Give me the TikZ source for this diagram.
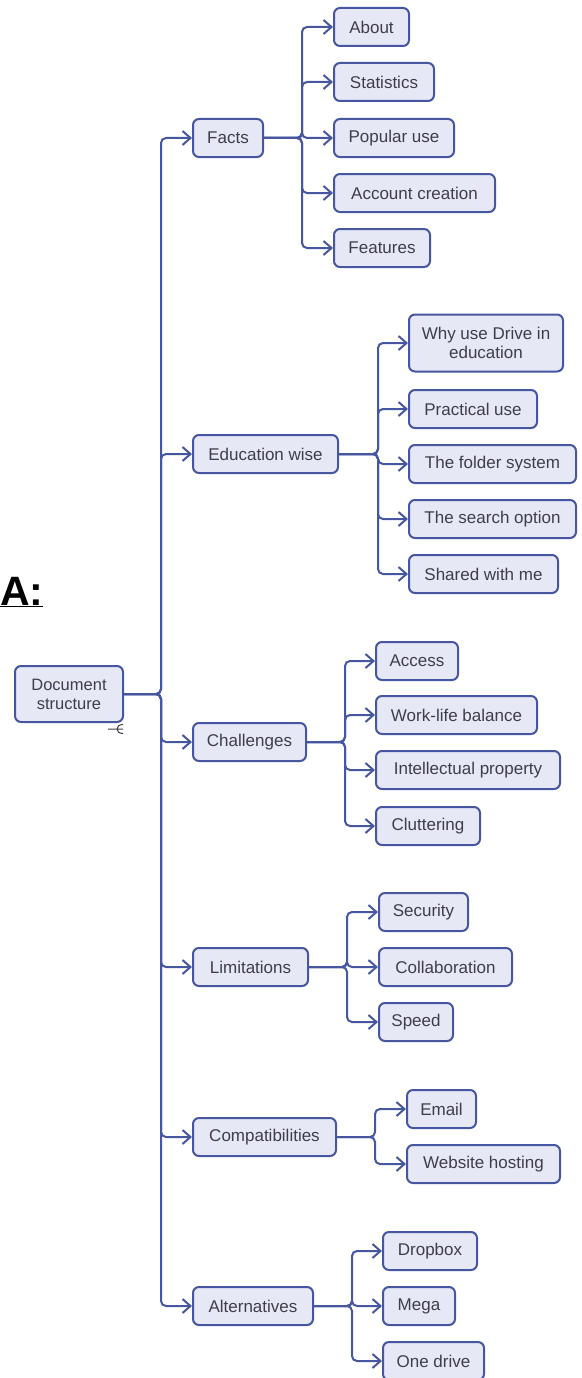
\documentclass[tikz,border=0pt]{standalone}
\usepackage{fontspec}
\setmainfont{Liberation Sans}
\definecolor{linkblue}{RGB}{70, 86, 160}
\definecolor{boxfill}{RGB}{230, 232, 246}
\definecolor{labelgray}{RGB}{62, 62, 72}
\usetikzlibrary{arrows.meta, positioning}
\tikzstyle{topic} = [
    rectangle,
    rounded corners=6pt,
    draw=linkblue,
    line width=2pt,
    fill=boxfill,
    text=labelgray,
    align=center,
    anchor=west,
    minimum height=38pt,
    inner xsep=8pt,
    font=\fontsize{17}{19}\selectfont
]
\tikzstyle{link} = [
    draw=linkblue,
    line width=2pt,
    rounded corners=5pt,
    -{Straight Barb[length=8pt, width=14pt, line width=2pt]}
]
\begin{document}
\begin{tikzpicture}[x=1pt, y=-1pt]
    \useasboundingbox (0,0) rectangle (581,1378);

    % Heading letter
    \node[font=\bfseries\fontsize{41}{41}\selectfont, anchor=base west, inner sep=0pt] (heading) at (0,605) {\underline{A:}};

    % Root
    \node[topic, minimum width=108pt, minimum height=56pt, font=\fontsize{16.5}{19}\selectfont] (root) at (14,694) {Document\\structure};
    \draw[labelgray, line width=1pt] (108,729) -- (123,729)
        (123,724.5) .. controls (115,724.5) and (115,733.5) .. (123,733.5);

    % Main topics
    \node[topic, minimum width=70pt] (facts) at (192,138) {Facts};
    \node[topic, minimum width=145pt] (eduwise) at (192,454) {Education wise};
    \node[topic, minimum width=113pt] (challenges) at (192,742) {Challenges};
    \node[topic, minimum width=115pt] (limits) at (192,967) {Limitations};
    \node[topic, minimum width=143pt] (compat) at (192,1137) {Compatibilities};
    \node[topic, minimum width=120pt] (altern) at (192,1306) {Alternatives};

    % Facts
    \node[topic, minimum width=75pt] (about) at (333,27) {About};
    \node[topic, minimum width=100pt] (stats) at (333,82) {Statistics};
    \node[topic, minimum width=120pt] (popular) at (333,138) {Popular use};
    \node[topic, minimum width=161pt] (account) at (333,193) {Account creation};
    \node[topic, minimum width=96pt] (features) at (333,248) {Features};

    % Education wise
    \node[topic, minimum width=154pt, minimum height=57pt] (whydrive) at (408,343) {Why use Drive in\\education};
    \node[topic, minimum width=128pt] (practical) at (408,409) {Practical use};
    \node[topic, minimum width=167pt] (folder) at (408,464) {The folder system};
    \node[topic, minimum width=167pt] (search) at (408,519) {The search option};
    \node[topic, minimum width=149pt] (shared) at (408,574) {Shared with me};

    % Challenges
    \node[topic, minimum width=82pt] (access) at (375,661) {Access};
    \node[topic, minimum width=161pt] (worklife) at (375,715) {Work-life balance};
    \node[topic, minimum width=184pt] (intprop) at (375,770) {Intellectual property};
    \node[topic, minimum width=104pt] (clutter) at (375,826) {Cluttering};

    % Limitations
    \node[topic, minimum width=89pt] (security) at (378,912) {Security};
    \node[topic, minimum width=133pt] (collab) at (378,967) {Collaboration};
    \node[topic, minimum width=74pt] (speed) at (378,1022) {Speed};

    % Compatibilities
    \node[topic, minimum width=69pt] (email) at (406,1109) {Email};
    \node[topic, minimum width=153pt] (website) at (406,1164) {Website hosting};

    % Alternatives
    \node[topic, minimum width=94pt] (dropbox) at (382,1251) {Dropbox};
    \node[topic, minimum width=72pt] (mega) at (382,1306) {Mega};
    \node[topic, minimum width=101pt] (onedrive) at (382,1361) {One drive};

    % Branch points
    \coordinate (rootj) at (161,694);
    \coordinate (factsj) at (302,138);
    \coordinate (eduj) at (378,454);
    \coordinate (chalj) at (345,742);
    \coordinate (limj) at (347,967);
    \coordinate (compj) at (375,1137);
    \coordinate (altj) at (352,1306);

    % Connectors
    \foreach \c in {facts,eduwise,challenges,limits,compat,altern}
        \draw[link] (root.east) -- (rootj) |- (\c.west);
    \foreach \c in {about,stats,popular,account,features}
        \draw[link] (facts.east) -- (factsj) |- (\c.west);
    \foreach \c in {whydrive,practical,folder,search,shared}
        \draw[link] (eduwise.east) -- (eduj) |- (\c.west);
    \foreach \c in {access,worklife,intprop,clutter}
        \draw[link] (challenges.east) -- (chalj) |- (\c.west);
    \foreach \c in {security,collab,speed}
        \draw[link] (limits.east) -- (limj) |- (\c.west);
    \foreach \c in {email,website}
        \draw[link] (compat.east) -- (compj) |- (\c.west);
    \foreach \c in {dropbox,mega,onedrive}
        \draw[link] (altern.east) -- (altj) |- (\c.west);

\end{tikzpicture}
\end{document}
